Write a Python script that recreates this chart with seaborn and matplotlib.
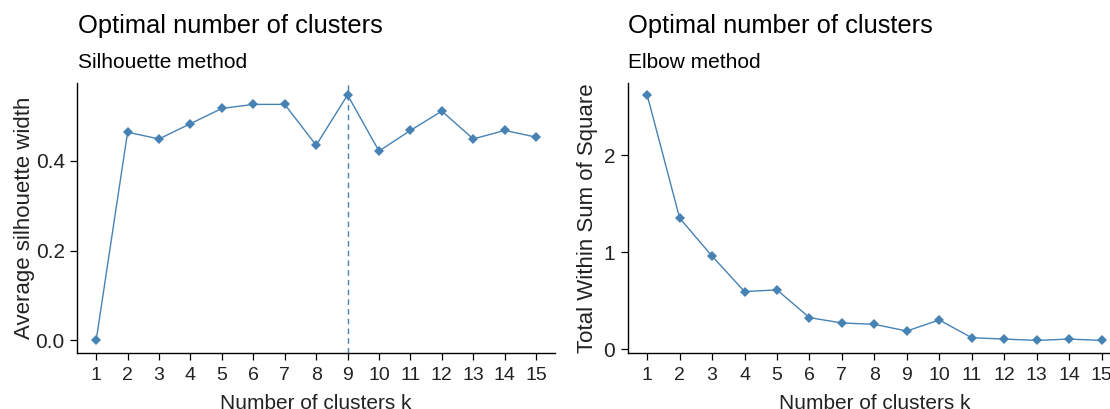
import matplotlib
matplotlib.use("Agg")
import matplotlib.pyplot as plt
import seaborn as sns
import pandas as pd
import numpy as np

# ---- data ----
k_values = list(range(1, 16))
silhouette = [0.0, 0.464, 0.449, 0.483, 0.517, 0.526, 0.526, 0.435, 0.547,
              0.422, 0.468, 0.511, 0.449, 0.468, 0.453]
wss = [2.624, 1.355, 0.962, 0.597, 0.614, 0.328, 0.273, 0.259, 0.190,
       0.304, 0.121, 0.107, 0.093, 0.107, 0.093]
optimal_k = 9
titles = ["Optimal number of clusters", "Optimal number of clusters"]
subtitles = ["Silhouette method", "Elbow method"]
ylabels = ["Average silhouette width", "Total Within Sum of Square"]
xlabel = "Number of clusters k"
left_yticks = [0.0, 0.2, 0.4]
left_yticklabels = ["0.0", "0.2", "0.4"]
right_yticks = [0, 1, 2]
right_yticklabels = ["0", "1", "2"]

sns.set_theme(style="white")
plt.rcParams["font.family"] = ["Liberation Sans", "DejaVu Sans"]

color = "#4682B4"
W, H = 1110, 409
fig = plt.figure(figsize=(W / 100, H / 100), dpi=100)

# axes rectangles in pixels: (left, right, top, bottom)
rects = [(77.3, 555.0, 82.7, 352.7), (627.7, 1121.0, 82.7, 352.7)]
series = [silhouette, wss]
yticks = [left_yticks, right_yticks]
yticklabels = [left_yticklabels, right_yticklabels]
ylabel_x = [-0.088, -0.060]

for i, (l, r, t, b) in enumerate(rects):
    ax = fig.add_axes([l / W, (H - b) / H, (r - l) / W, (b - t) / H])
    df = pd.DataFrame({"k": k_values, "v": series[i]})
    sns.lineplot(data=df, x="k", y="v", ax=ax, color=color, lw=1.0,
                 marker="D", markersize=5.0, markeredgewidth=0,
                 markerfacecolor=color)
    if i == 0:
        ax.axvline(optimal_k, color=color, lw=1.0, ls=(0, (4, 3)))
    vals = np.array(series[i])
    lo, hi = vals.min(), vals.max()
    pad = (hi - lo) * 0.05
    ax.set_ylim(lo - pad, hi + pad)
    ax.set_xlim(0.4, 15.6)
    ax.set_xticks(k_values)
    ax.set_xticklabels([str(k) for k in k_values], fontsize=14)
    ax.set_yticks(yticks[i])
    ax.set_yticklabels(yticklabels[i], fontsize=15)
    for s in ["top", "right"]:
        ax.spines[s].set_visible(False)
    for s in ["left", "bottom"]:
        ax.spines[s].set_color("black")
        ax.spines[s].set_linewidth(1.0)
    ax.tick_params(axis="both", which="major", length=5, width=0.9,
                   color="black", direction="out", pad=4,
                   left=True, bottom=True, labelcolor="#222222")
    ax.tick_params(axis="x", pad=5)
    ax.set_xlabel(xlabel, fontsize=15, color="#222222")
    ax.xaxis.set_label_coords(0.5, -0.152)
    ax.set_ylabel(ylabels[i], fontsize=16, color="#222222")
    ax.yaxis.set_label_coords(ylabel_x[i], 0.5)
    ax.grid(False)
    fig.text(l / W + 0.0005, (H - 33) / H, titles[i], fontsize=18.4,
             ha="left", va="baseline", color="black")
    fig.text(l / W + 0.0005, (H - 68) / H, subtitles[i], fontsize=15,
             ha="left", va="baseline", color="black")

fig.savefig("out.png", dpi=100)
